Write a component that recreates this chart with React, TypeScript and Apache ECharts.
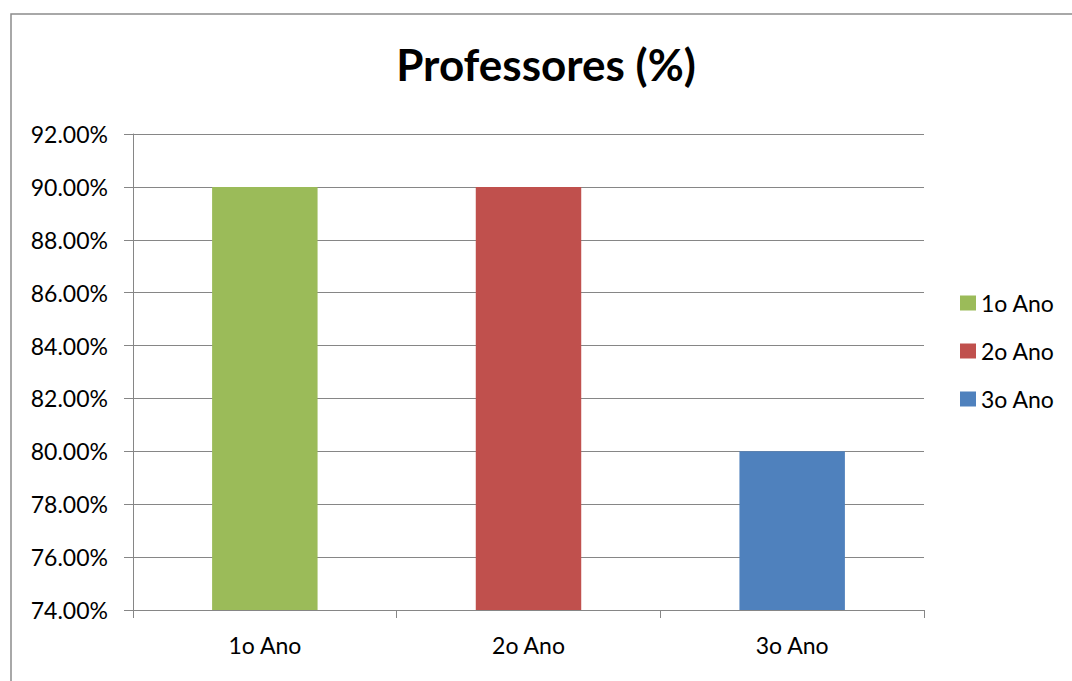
import React, { useEffect, useRef } from "react";
import * as echarts from "echarts";

const categories = ["1o Ano", "2o Ano", "3o Ano"];
const values = [90, 90, 80];
const colors = ["#9BBB59", "#C0504D", "#4F81BD"];
const yMin = 74;
const yMax = 92;
const yStep = 2;

const FONT = "Lato, 'Open Sans', sans-serif";
const GRID_COLOR = "#868686";

export default function App() {
  const ref = useRef<HTMLDivElement>(null);

  useEffect(() => {
    if (!ref.current) return;
    const chart = echarts.init(ref.current, undefined, { renderer: "svg" });

    // one series per year, stacked so each bar sits centred in its own slot
    const series = categories.map((name, i) => ({
      name,
      type: "bar" as const,
      stack: "anos",
      barWidth: "40%",
      itemStyle: { color: colors[i] },
      data: categories.map((_, j) => (j === i ? values[i] : "-")),
    }));

    chart.setOption({
      animation: false,
      backgroundColor: "#ffffff",
      title: {
        text: "Professores (%)",
        left: 541,
        textAlign: "center",
        top: 37,
        textStyle: { fontFamily: FONT, fontSize: 44, fontWeight: "bold", color: "#000" },
      },
      graphic: [
        {
          type: "rect",
          shape: { x: 11, y: 14, width: 1100, height: 700 },
          style: { fill: "none", stroke: "#8c8c8c", lineWidth: 1.5 },
          silent: true,
        },
      ],
      legend: {
        orient: "vertical",
        left: 955,
        top: 286,
        itemWidth: 16,
        itemHeight: 15,
        itemGap: 24,
        icon: "rect",
        textStyle: { fontFamily: FONT, fontSize: 23, lineHeight: 24, color: "#000" },
        data: categories,
      },
      grid: { left: 133, top: 134, right: 148, bottom: 71, containLabel: false },
      xAxis: {
        type: "category",
        data: categories,
        axisLine: { show: true, lineStyle: { color: GRID_COLOR, width: 1 } },
        axisTick: { show: true, length: 8, alignWithLabel: false, lineStyle: { color: GRID_COLOR } },
        axisLabel: { margin: 23, fontFamily: FONT, fontSize: 23, color: "#000" },
      },
      yAxis: {
        type: "value",
        min: yMin,
        max: yMax,
        interval: yStep,
        axisLine: { show: true, lineStyle: { color: GRID_COLOR, width: 1 } },
        axisTick: { show: true, length: 9, lineStyle: { color: GRID_COLOR } },
        splitLine: { show: true, lineStyle: { color: GRID_COLOR, width: 1 } },
        axisLabel: {
          margin: 25,
          fontFamily: FONT,
          fontSize: 23,
          color: "#000",
          formatter: (v: number) => v.toFixed(2) + "%",
        },
      },
      series,
    });

    return () => chart.dispose();
  }, []);

  return (
    <div
      ref={ref}
      style={{ position: "absolute", left: 0, top: 0, width: 1072, height: 681 }}
    />
  );
}
